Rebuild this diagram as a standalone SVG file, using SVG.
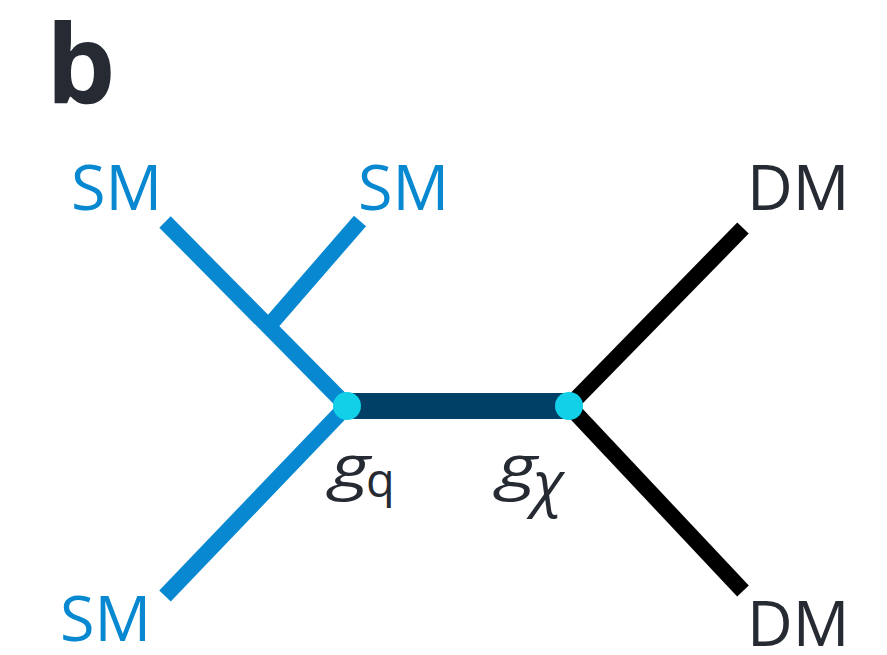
<svg xmlns="http://www.w3.org/2000/svg" width="887" height="655" viewBox="0 0 887 655">
<style>
.sm{fill:#0788d0;font-family:"Open Sans","Noto Sans",sans-serif;font-size:63px}
.dm{fill:#262a33;font-family:"Open Sans","Noto Sans",sans-serif;font-size:63px}
.blue{stroke:#0788d0;stroke-width:16;fill:none;stroke-linecap:butt}
.black{stroke:#000;stroke-width:16;fill:none;stroke-linecap:butt}
.dot{fill:#12d0e8}
.g{fill:#262a33;font-family:"Open Sans","Noto Sans",sans-serif;font-style:italic;font-size:60px}
.sub{fill:#262a33;font-family:"Open Sans","Noto Sans",sans-serif;font-size:47px}
</style>
<rect width="887" height="655" fill="#fff"/>
<text id="panel" x="46" y="103" font-family="'Open Sans','Liberation Sans',sans-serif" font-weight="700" font-size="110" fill="#262a33">b</text>
<g id="connectors">
<line class="blue" x1="165" y1="222" x2="347" y2="406"/>
<line class="blue" x1="360" y1="221" x2="268" y2="327"/>
<line class="blue" x1="347" y1="406" x2="165" y2="596"/>
<line class="black" x1="569" y1="406" x2="743" y2="228"/>
<line class="black" x1="569" y1="406" x2="743" y2="591"/>
<line x1="347" y1="406" x2="569" y2="406" stroke="#003f66" stroke-width="26"/>
</g>
<g id="vertex-q"><circle class="dot" cx="347" cy="406" r="14"/><text class="g" x="330" y="488" textLength="40" lengthAdjust="spacingAndGlyphs">g</text><text class="sub" x="366" y="497">q</text></g>
<g id="vertex-chi"><circle class="dot" cx="569" cy="406" r="14"/><text class="g" x="497" y="488" textLength="40" lengthAdjust="spacingAndGlyphs">g</text><text class="g" x="533" y="504" font-size="42">χ</text></g>
<g id="sm-top-left"><text class="sm" x="71" y="210">SM</text></g>
<g id="sm-top-right"><text class="sm" x="358" y="210">SM</text></g>
<g id="sm-bottom"><text class="sm" x="60" y="641">SM</text></g>
<g id="dm-top"><text class="dm" x="747" y="210">DM</text></g>
<g id="dm-bottom"><text class="dm" x="747" y="646">DM</text></g>
</svg>
